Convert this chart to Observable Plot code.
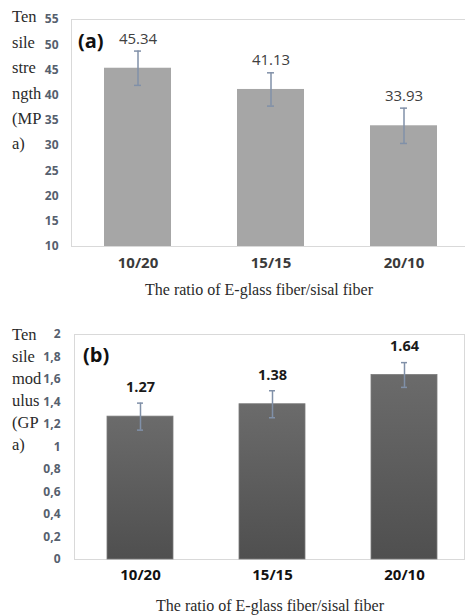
<!DOCTYPE html>
<html><head><meta charset="utf-8">
<script src="https://cdn.jsdelivr.net/npm/d3@7"></script>
<script src="https://cdn.jsdelivr.net/npm/@observablehq/plot@0.6"></script>
<style>
html,body{margin:0;padding:0;background:#fff;overflow:hidden;}
#wrap{position:relative;width:465px;height:616px;overflow:hidden;background:#fff;}
.panel{position:absolute;left:0;}
.ytitle{position:absolute;left:12px;font-family:"Liberation Serif","Times New Roman",serif;font-size:16.5px;color:#2a2a2a;}
.xtitle{position:absolute;font-family:"Liberation Serif","Times New Roman",serif;font-size:16px;color:#2a2a2a;white-space:nowrap;transform:translate(-50%,-50%);}
.tag{position:absolute;font-family:"Open Sans",sans-serif;font-weight:bold;font-size:20px;color:#111;transform:translateY(-50%);}
</style></head><body><div id="wrap"></div>
<script>
const categories = ["10/20", "15/15", "20/10"];
const strength = [45.34, 41.13, 33.93];
const strengthErr = [3.4, 3.3, 3.5];
const modulus = [1.27, 1.38, 1.64];
const modulusErr = [0.12, 0.12, 0.11];
const ticksA = [10, 15, 20, 25, 30, 35, 40, 45, 50, 55];
const ticksB = [0, 0.2, 0.4, 0.6, 0.8, 1, 1.2, 1.4, 1.6, 1.8, 2];
const tickLabelsB = ["0", "0,2", "0,4", "0,6", "0,8", "1", "1,2", "1,4", "1,6", "1,8", "2"];
const yTitleA = ["Ten", "sile", "stre", "ngth", "(MP", "a)"];
const yTitleB = ["Ten", "sile", "mod", "ulus", "(GP", "a)"];
const xTitle = "The ratio of E-glass fiber/sisal fiber";
const tagA = "(a)", tagB = "(b)";

const dataA = categories.map((c, i) => ({c, v: strength[i], e: strengthErr[i]}));
const dataB = categories.map((c, i) => ({c, v: modulus[i], e: modulusErr[i]}));
const baseA = ticksA[0], baseB = ticksB[0];
const errColor = "#8090a8";
const wrap = document.getElementById("wrap");

const plotA = Plot.plot({
  width: 465, height: 305,
  marginLeft: 71, marginRight: -5, marginTop: 19, marginBottom: 59,
  style: {fontFamily: "'Open Sans', sans-serif", background: "transparent"},
  x: {domain: categories, paddingInner: 0.5, paddingOuter: 0.25, align: 0.5, label: null},
  y: {domain: [ticksA[0], ticksA[ticksA.length - 1]], label: null},
  marks: [
    Plot.frame({stroke: "#d9d9d9"}),
    Plot.barY(dataA, {x: "c", y1: baseA, y2: "v", fill: "#a6a6a6"}),
    Plot.ruleX(dataA, {x: "c", y1: d => d.v - d.e, y2: d => d.v + d.e, stroke: errColor, strokeWidth: 1.5}),
    Plot.tickY(dataA, {x: "c", y: d => d.v + d.e, stroke: errColor, strokeWidth: 1.5, insetLeft: 30, insetRight: 30}),
    Plot.tickY(dataA, {x: "c", y: d => d.v - d.e, stroke: errColor, strokeWidth: 1.5, insetLeft: 30, insetRight: 30}),
    Plot.text(dataA, {x: "c", y: "v", text: d => d.v.toFixed(2), dy: -29.5, fontSize: 15, fill: "#404040"}),
    Plot.axisY({ticks: ticksA, tickSize: 0, tickPadding: 13, fontSize: 12, label: null}),
    Plot.axisX({tickSize: 0, tickPadding: 11, fontSize: 15, label: null})
  ]
});

const plotB = Plot.plot({
  width: 465, height: 311,
  marginLeft: 74, marginRight: 1, marginTop: 29, marginBottom: 57,
  style: {fontFamily: "'Open Sans', sans-serif", background: "transparent"},
  x: {domain: categories, range: [74, 470], paddingInner: 0.5, paddingOuter: 0.25, align: 0.5, label: null},
  y: {domain: [ticksB[0], ticksB[ticksB.length - 1]], label: null},
  marks: [
    Plot.frame({stroke: "#d9d9d9"}),
    Plot.barY(dataB, {x: "c", y1: baseB, y2: "v", fill: "#5a5a5a", stroke: "#7a7a7a", strokeWidth: 0.8}),
    Plot.ruleX(dataB, {x: "c", y1: d => d.v - d.e, y2: d => d.v + d.e, stroke: errColor, strokeWidth: 1.5}),
    Plot.tickY(dataB, {x: "c", y: d => d.v + d.e, stroke: errColor, strokeWidth: 1.5, insetLeft: 30, insetRight: 30}),
    Plot.tickY(dataB, {x: "c", y: d => d.v - d.e, stroke: errColor, strokeWidth: 1.5, insetLeft: 30, insetRight: 30}),
    Plot.text(dataB, {x: "c", y: "v", text: d => d.v.toFixed(2), dy: -29, fontSize: 14.5, fontWeight: "bold", fill: "#1a1a1a"}),
    Plot.axisY({ticks: ticksB, tickFormat: d => tickLabelsB[ticksB.indexOf(d)], tickSize: 0, tickPadding: 14, fontSize: 12, label: null}),
    Plot.axisX({tickSize: 0, tickPadding: 10, fontSize: 15, label: null})
  ]
});

function place(node, top) {
  const div = document.createElement("div");
  div.className = "panel";
  div.style.top = top + "px";
  div.appendChild(node);
  wrap.appendChild(div);
  return node.tagName.toLowerCase() === "svg" ? node : node.querySelector("svg");
}
const svgA = d3.select(place(plotA, 0));
const svgB = d3.select(place(plotB, 305));

function styleAxes(svg, yFill, xFill) {
  svg.selectAll('g[aria-label="y-axis tick label"]').attr("fill", yFill).attr("font-weight", "bold");
  svg.selectAll('g[aria-label="x-axis tick label"]').attr("fill", xFill).attr("font-weight", "bold");
}
styleAxes(svgA, "#56606e", "#3a3a3a");
styleAxes(svgB, "#56606e", "#111111");

const defs = svgB.insert("defs", ":first-child");
const grad = defs.append("linearGradient").attr("id", "gradB").attr("x1", 0).attr("y1", 0).attr("x2", 0).attr("y2", 1);
grad.append("stop").attr("offset", "0%").attr("stop-color", "#6b6b6b");
grad.append("stop").attr("offset", "100%").attr("stop-color", "#4f4f4f");
svgB.selectAll('g[aria-label="bar"] rect').attr("fill", "url(#gradB)");

function addYTitle(lines, top, lh) {
  const d = document.createElement("div");
  d.className = "ytitle";
  d.style.top = top + "px";
  d.style.lineHeight = lh + "px";
  d.innerHTML = lines.join("<br>");
  wrap.appendChild(d);
}
addYTitle(yTitleA, 4.3, 25.4);
addYTitle(yTitleB, 324, 22);

function addText(cls, text, x, y) {
  const d = document.createElement("div");
  d.className = cls;
  d.textContent = text;
  d.style.left = x + "px";
  d.style.top = y + "px";
  wrap.appendChild(d);
}
addText("xtitle", xTitle, 259, 290);
addText("xtitle", xTitle, 270, 606);
addText("tag", tagA, 78, 40);
addText("tag", tagB, 83, 354);
</script></body></html>
